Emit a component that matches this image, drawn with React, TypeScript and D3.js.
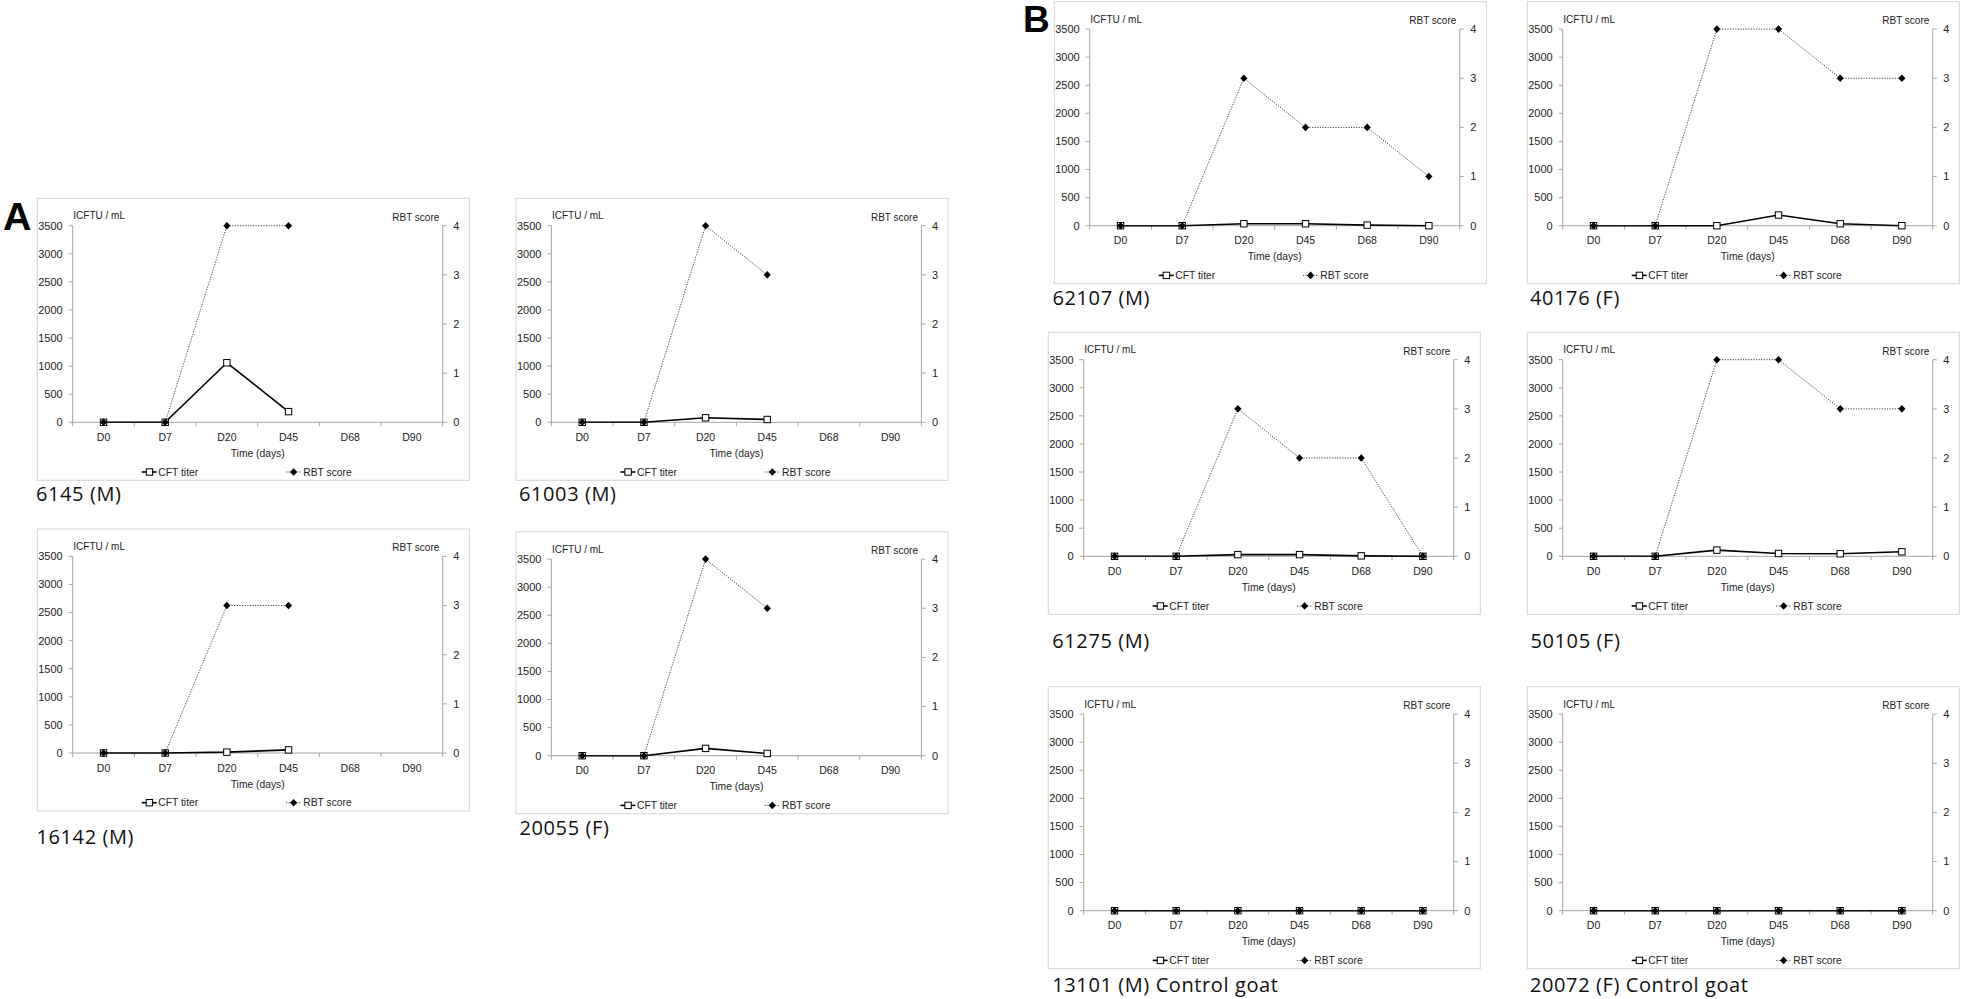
import React from "react";
import * as d3 from "d3";

// ---------- data ----------
const days = ["D0", "D7", "D20", "D45", "D68", "D90"];
const cftTicks = [0, 500, 1000, 1500, 2000, 2500, 3000, 3500];
const rbtTicks = [0, 1, 2, 3, 4];

const goatNames = [
  "6145 (M)",
  "61003 (M)",
  "16142 (M)",
  "20055 (F)",
  "62107 (M)",
  "40176 (F)",
  "61275 (M)",
  "50105 (F)",
  "13101 (M) Control goat",
  "20072 (F) Control goat",
];

const cft6145 = [0, 0, 1060, 190];
const rbt6145 = [0, 0, 4, 4];
const cft61003 = [0, 0, 80, 50];
const rbt61003 = [0, 0, 4, 3];
const cft16142 = [0, 0, 15, 55];
const rbt16142 = [0, 0, 3, 3];
const cft20055 = [0, 0, 130, 40];
const rbt20055 = [0, 0, 4, 3];
const cft62107 = [0, 0, 35, 35, 10, 0];
const rbt62107 = [0, 0, 3, 2, 2, 1];
const cft40176 = [0, 0, 0, 190, 35, 0];
const rbt40176 = [0, 0, 4, 4, 3, 3];
const cft61275 = [0, 0, 30, 30, 8, 0];
const rbt61275 = [0, 0, 3, 2, 2, 0];
const cft50105 = [0, 0, 110, 50, 45, 80];
const rbt50105 = [0, 0, 4, 4, 3, 3];
const cft13101 = [0, 0, 0, 0, 0, 0];
const rbt13101 = [0, 0, 0, 0, 0, 0];
const cft20072 = [0, 0, 0, 0, 0, 0];
const rbt20072 = [0, 0, 0, 0, 0, 0];

const legendLabels = ["CFT titer", "RBT score"];
const axisTitles = { left: "ICFTU / mL", right: "RBT score", x: "Time (days)" };

// ---------- layout (positions only) ----------
const panels = [
  { name: goatNames[0], cft: cft6145, rbt: rbt6145, bx: 37.3, by: 198.3, lx: 36, ly: 501 },
  { name: goatNames[1], cft: cft61003, rbt: rbt61003, bx: 516, by: 198.3, lx: 519, ly: 501 },
  { name: goatNames[2], cft: cft16142, rbt: rbt16142, bx: 37.3, by: 529, lx: 36.5, ly: 844 },
  { name: goatNames[3], cft: cft20055, rbt: rbt20055, bx: 516, by: 531.7, lx: 519.5, ly: 835 },
  { name: goatNames[4], cft: cft62107, rbt: rbt62107, bx: 1054.3, by: 1.7, lx: 1052.5, ly: 305 },
  { name: goatNames[5], cft: cft40176, rbt: rbt40176, bx: 1527.3, by: 1.7, lx: 1530, ly: 305 },
  { name: goatNames[6], cft: cft61275, rbt: rbt61275, bx: 1048.3, by: 332.3, lx: 1052.3, ly: 648 },
  { name: goatNames[7], cft: cft50105, rbt: rbt50105, bx: 1527.3, by: 332.3, lx: 1530.5, ly: 648 },
  { name: goatNames[8], cft: cft13101, rbt: rbt13101, bx: 1048.3, by: 686.7, lx: 1052.3, ly: 991.5 },
  { name: goatNames[9], cft: cft20072, rbt: rbt20072, bx: 1527.3, by: 686.7, lx: 1530, ly: 991.5 },
];

const BOX_W = 432;
const BOX_H = 282;
const AXIS_COLOR = "#a6a6a6";
const TEXT_COLOR = "#222";
const SMALL_FONT = "'Liberation Sans', Arial, sans-serif";
const BIG_FONT = "'Open Sans', 'Liberation Sans', sans-serif";

const diamondPath = "M0,-3.8L3.6,0L0,3.8L-3.6,0Z";

function Panel({ p }: { p: (typeof panels)[number] }) {
  const { bx, by } = p;
  const left = bx + 35.4;
  const right = bx + 405.4;
  const top = by + 27.4;
  const bottom = by + 224;

  const x = d3.scalePoint<string>().domain(days).range([left, right]).padding(0.5);
  const band = d3.scaleBand<string>().domain(days).range([left, right]);
  const yL = d3.scaleLinear().domain([0, 3500]).range([bottom, top]);
  const yR = d3.scaleLinear().domain([0, 4]).range([bottom, top]);

  const cftPts = p.cft.map((v, i) => [x(days[i]) as number, yL(v)] as [number, number]);
  const rbtPts = p.rbt.map((v, i) => [x(days[i]) as number, yR(v)] as [number, number]);
  const line = d3.line<[number, number]>();

  const boundaries = [...days.map((d) => band(d) as number), right];

  const legY = by + 273.7;
  const cftLegX = bx + 104.4;
  const rbtLegX = bx + 248.7;

  return (
    <g>
      <rect x={bx} y={by} width={BOX_W} height={BOX_H} fill="white" stroke="#d4d4d4" strokeWidth={1} />
      {/* left axis */}
      <line x1={left} x2={left} y1={top} y2={bottom} stroke={AXIS_COLOR} />
      {cftTicks.map((t) => (
        <g key={"l" + t}>
          <line x1={left - 4} x2={left} y1={yL(t)} y2={yL(t)} stroke={AXIS_COLOR} />
          <text x={left - 10} y={yL(t)} dy="0.35em" textAnchor="end" fontSize={11} fill={TEXT_COLOR} fontFamily={SMALL_FONT}>
            {t}
          </text>
        </g>
      ))}
      {/* right axis */}
      <line x1={right} x2={right} y1={top} y2={bottom} stroke={AXIS_COLOR} />
      {rbtTicks.map((t) => (
        <g key={"r" + t}>
          <line x1={right} x2={right + 4} y1={yR(t)} y2={yR(t)} stroke={AXIS_COLOR} />
          <text x={right + 10.5} y={yR(t)} dy="0.35em" textAnchor="start" fontSize={11} fill={TEXT_COLOR} fontFamily={SMALL_FONT}>
            {t}
          </text>
        </g>
      ))}
      {/* x axis */}
      <line x1={left} x2={right} y1={bottom} y2={bottom} stroke={AXIS_COLOR} />
      {boundaries.map((b, i) => (
        <line key={"b" + i} x1={b} x2={b} y1={bottom} y2={bottom + 4} stroke={AXIS_COLOR} />
      ))}
      {days.map((d) => (
        <text key={d} x={x(d)} y={by + 239} dy="0.35em" textAnchor="middle" fontSize={10.5} fill={TEXT_COLOR} fontFamily={SMALL_FONT}>
          {d}
        </text>
      ))}
      <text x={(left + right) / 2} y={by + 255} dy="0.35em" textAnchor="middle" fontSize={10.3} fill={TEXT_COLOR} fontFamily={SMALL_FONT}>
        {axisTitles.x}
      </text>
      <text x={bx + 36} y={by + 17.4} dy="0.35em" fontSize={10} fill={TEXT_COLOR} fontFamily={SMALL_FONT}>
        {axisTitles.left}
      </text>
      <text x={bx + 402} y={by + 18.7} dy="0.35em" textAnchor="end" fontSize={10} fill={TEXT_COLOR} fontFamily={SMALL_FONT}>
        {axisTitles.right}
      </text>

      {/* series */}
      <path d={line(cftPts) as string} fill="none" stroke="#000" strokeWidth={1.6} />
      <path d={line(rbtPts) as string} fill="none" stroke="#444" strokeWidth={1} strokeDasharray="1.2 1.4" />
      {cftPts.map((pt, i) => (
        <rect key={"s" + i} x={pt[0] - 3.2} y={pt[1] - 3.2} width={6.4} height={6.4} fill="white" stroke="#000" strokeWidth={1} />
      ))}
      {rbtPts.map((pt, i) => (
        <path key={"d" + i} d={diamondPath} transform={`translate(${pt[0]},${pt[1]})`} fill="#000" />
      ))}

      {/* legend */}
      <line x1={cftLegX} x2={cftLegX + 15} y1={legY} y2={legY} stroke="#000" strokeWidth={1.6} />
      <rect x={cftLegX + 4.5} y={legY - 3.2} width={6.4} height={6.4} fill="white" stroke="#000" strokeWidth={1} />
      <text x={cftLegX + 16.6} y={legY} dy="0.35em" fontSize={10.3} fill={TEXT_COLOR} fontFamily={SMALL_FONT}>
        {legendLabels[0]}
      </text>
      <line x1={rbtLegX} x2={rbtLegX + 15.7} y1={legY} y2={legY} stroke="#444" strokeWidth={1} strokeDasharray="1.2 1.4" />
      <path d={diamondPath} transform={`translate(${rbtLegX + 7.6},${legY})`} fill="#000" />
      <text x={rbtLegX + 17.3} y={legY} dy="0.35em" fontSize={10.3} fill={TEXT_COLOR} fontFamily={SMALL_FONT}>
        {legendLabels[1]}
      </text>

      {/* goat label */}
      <text x={p.lx} y={p.ly} fontSize={20} letterSpacing={0.6} fill="#111" fontFamily={BIG_FONT}>
        {p.name}
      </text>
    </g>
  );
}

export default function App() {
  return (
    <svg
      width={1961}
      height={999}
      viewBox="0 0 1961 999"
      style={{ position: "absolute", left: 0, top: 0, background: "white" }}
    >
      <rect x={0} y={0} width={1961} height={999} fill="white" />
      {panels.map((p) => (
        <Panel key={p.name} p={p} />
      ))}
      <text x={3} y={230} fontSize={39.5} fontWeight="bold" fontFamily={SMALL_FONT} fill="#000">
        A
      </text>
      <text x={1023} y={31.7} fontSize={37} fontWeight="bold" fontFamily={SMALL_FONT} fill="#000">
        B
      </text>
    </svg>
  );
}
